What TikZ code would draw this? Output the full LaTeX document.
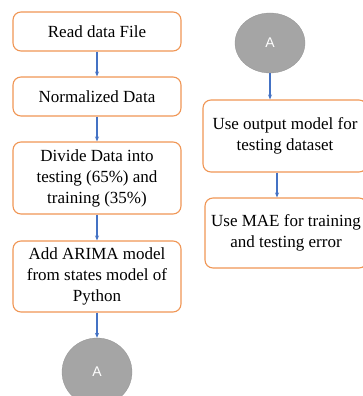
\documentclass[tikz,border=0pt]{standalone}
\usepackage{fontspec}
\setmainfont{Liberation Serif}
\setsansfont{Liberation Sans}
\usepackage{xcolor}
\usetikzlibrary{arrows.meta}
\definecolor{boxorange}{RGB}{240,150,85}
\definecolor{flowblue}{RGB}{68,114,196}
\definecolor{connGray}{RGB}{165,165,165}
\tikzset{
	stepbox/.style={draw=boxorange, line width=1.1pt, rounded corners=8pt, fill=white, align=center, font=\fontsize{17}{21}\selectfont, inner sep=0pt},
	connA/.style={ellipse, fill=connGray, draw=connGray!90!black, line width=0.3pt, minimum width=70pt, inner sep=0pt, font=\sffamily\fontsize{14}{16}\selectfont, text=white},
	flow/.style={draw=flowblue, line width=1.1pt, -{Stealth[length=5pt,width=4pt]}}
}
\usetikzlibrary{shapes.geometric}
\begin{document}
\begin{tikzpicture}[x=1pt,y=1pt,yscale=-1,xscale=1]
				\useasboundingbox (0,0) rectangle (363,396);
				% left column
				\node [stepbox, minimum width=168pt, minimum height=39pt] (readf) at (97,31.5) {Read data File};
				\node [stepbox, minimum width=168pt, minimum height=39pt] (norm) at (97,96.5) {Normalized Data};
				\node [stepbox, minimum width=168pt, minimum height=72pt] (divide) at (97,178) {Divide Data into\\testing (65\%) and\\training (35\%)};
				\node [stepbox, minimum width=168pt, minimum height=71pt] (arima) at (97,276.5) {Add ARIMA model\\from states model of\\Python};
				\node [connA, minimum height=68pt] (aout) at (97,372) {A};
				% right column
				\node [connA, minimum height=60pt] (ain) at (270,43) {A};
				\node [stepbox, minimum width=164pt, minimum height=72pt] (usemod) at (285,136) {Use output model for\\testing dataset};
				\node [stepbox, minimum width=162pt, minimum height=70pt] (usemae) at (286,233) {Use MAE for training\\and testing error};
				% connectors
				\draw [flow] (readf) -- (norm);
				\draw [flow] (norm) -- (divide);
				\draw [flow] (divide) -- (arima);
				\draw [flow] (arima) -- (aout);
				\draw [flow] (ain.south) -- (ain.south |- usemod.north);
				\draw [flow] ([xshift=-8pt]usemod.south) -- ([xshift=-8pt]usemod.south |- usemae.north);
\end{tikzpicture}
\end{document}
